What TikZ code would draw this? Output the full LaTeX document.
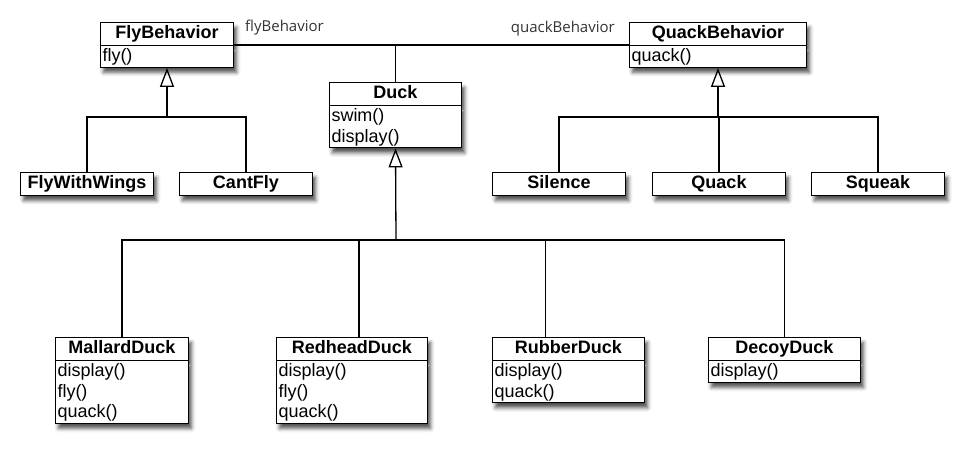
\documentclass[tikz,border=0pt]{standalone}
\usepackage{fontspec}
\setmainfont{Liberation Sans}
\newfontfamily\rolefont{Open Sans}
\usetikzlibrary{shapes.multipart,shadows.blur,arrows.meta}

% struts for the rows of a class box
\newcommand\titlerow{\rule[-6pt]{0pt}{21.5pt}}
\newcommand\oprow{\rule[-5pt]{0pt}{20.5pt}}
\newcommand\cname[1]{\hbox to\hsize{\hss\titlerow\textbf{#1}\hss}}

\tikzset{
  classbox/.style={rectangle split, rectangle split parts=2, draw, line width=1.3pt,
    fill=white, inner xsep=2pt, inner ysep=0pt, anchor=north, align=left,
    font=\fontsize{18}{20.5}\selectfont,
    blur shadow={shadow xshift=3pt, shadow yshift=-5pt, shadow blur radius=4pt, shadow opacity=70}},
  leafbox/.style={classbox, rectangle split parts=1},
  inherit/.style={-{Triangle[open,length=19pt,width=14pt]}, line width=1.3pt},
  link/.style={line width=1.3pt},
  role/.style={font=\rolefont\fontsize{15}{15}\selectfont, text=black!80, inner sep=0pt}
}

\begin{document}
\begin{tikzpicture}[x=1pt,y=-1pt]
    \useasboundingbox (0,0) rectangle (964,450);
    % behaviour interfaces and the duck
    \node[classbox, text width=129pt] (fly) at (167,22) {\cname{FlyBehavior}\nodepart{second}\oprow fly()};
    \node[classbox, text width=173pt] (quack) at (718,22) {\cname{QuackBehavior}\nodepart{second}\oprow quack()};
    \node[classbox, text width=128pt] (duck) at (395.5,82) {\cname{Duck}\nodepart{second}\oprow swim()\\\oprow display()};
    % fly behaviours
    \node[leafbox, text width=129pt] (wings) at (87,172) {\cname{FlyWithWings}};
    \node[leafbox, text width=129pt] (cant) at (246,172) {\cname{CantFly}};
    % quack behaviours
    \node[leafbox, text width=129pt] (silence) at (559,172) {\cname{Silence}};
    \node[leafbox, text width=129pt] (quackq) at (719,172) {\cname{Quack}};
    \node[leafbox, text width=129pt] (squeak) at (878,172) {\cname{Squeak}};
    % ducks
    \node[classbox, text width=129pt] (mallard) at (122,337) {\cname{MallardDuck}\nodepart{second}\oprow display()\\\oprow fly()\\\oprow quack()};
    \node[classbox, text width=147pt] (redhead) at (352,337) {\cname{RedheadDuck}\nodepart{second}\oprow display()\\\oprow fly()\\\oprow quack()};
    \node[classbox, text width=148pt] (rubber) at (568.5,337) {\cname{RubberDuck}\nodepart{second}\oprow display()\\\oprow quack()};
    \node[classbox, text width=148pt] (decoy) at (784.5,337) {\cname{DecoyDuck}\nodepart{second}\oprow display()};
    % roles
    \node[role, anchor=base west] (flyrole) at (245,31) {flyBehavior};
    \node[role, anchor=base east] (quackrole) at (615,32) {quackBehavior};
    % associations
    \draw[link] (fly.east) -- (quack.west);
    \draw[link] (duck.north) -- (duck.north |- fly.east);
    % inheritance
    \coordinate (flybus) at (167,117);
    \coordinate (quackbus) at (718,117);
    \coordinate (duckbus) at (396,240);
    \draw[inherit] (flybus) -- (fly.south);
    \draw[link] (wings.north) |- (flybus) -| (cant.north);
    \draw[inherit] (quackbus) -- (quack.south);
    \draw[link] (silence.north) |- (quackbus) -| (squeak.north);
    \draw[link] (quackq.north) -- (quackq.north |- quackbus);
    \draw[inherit] (duckbus) -- (duck.south);
    \draw[link] (mallard.north) |- (duckbus) -| (decoy.north);
    \draw[link] ([xshift=7pt]redhead.north) -- ([xshift=7pt]redhead.north |- duckbus);
    \draw[link] ([xshift=-23pt]rubber.north) -- ([xshift=-23pt]rubber.north |- duckbus);
\end{tikzpicture}
\end{document}
